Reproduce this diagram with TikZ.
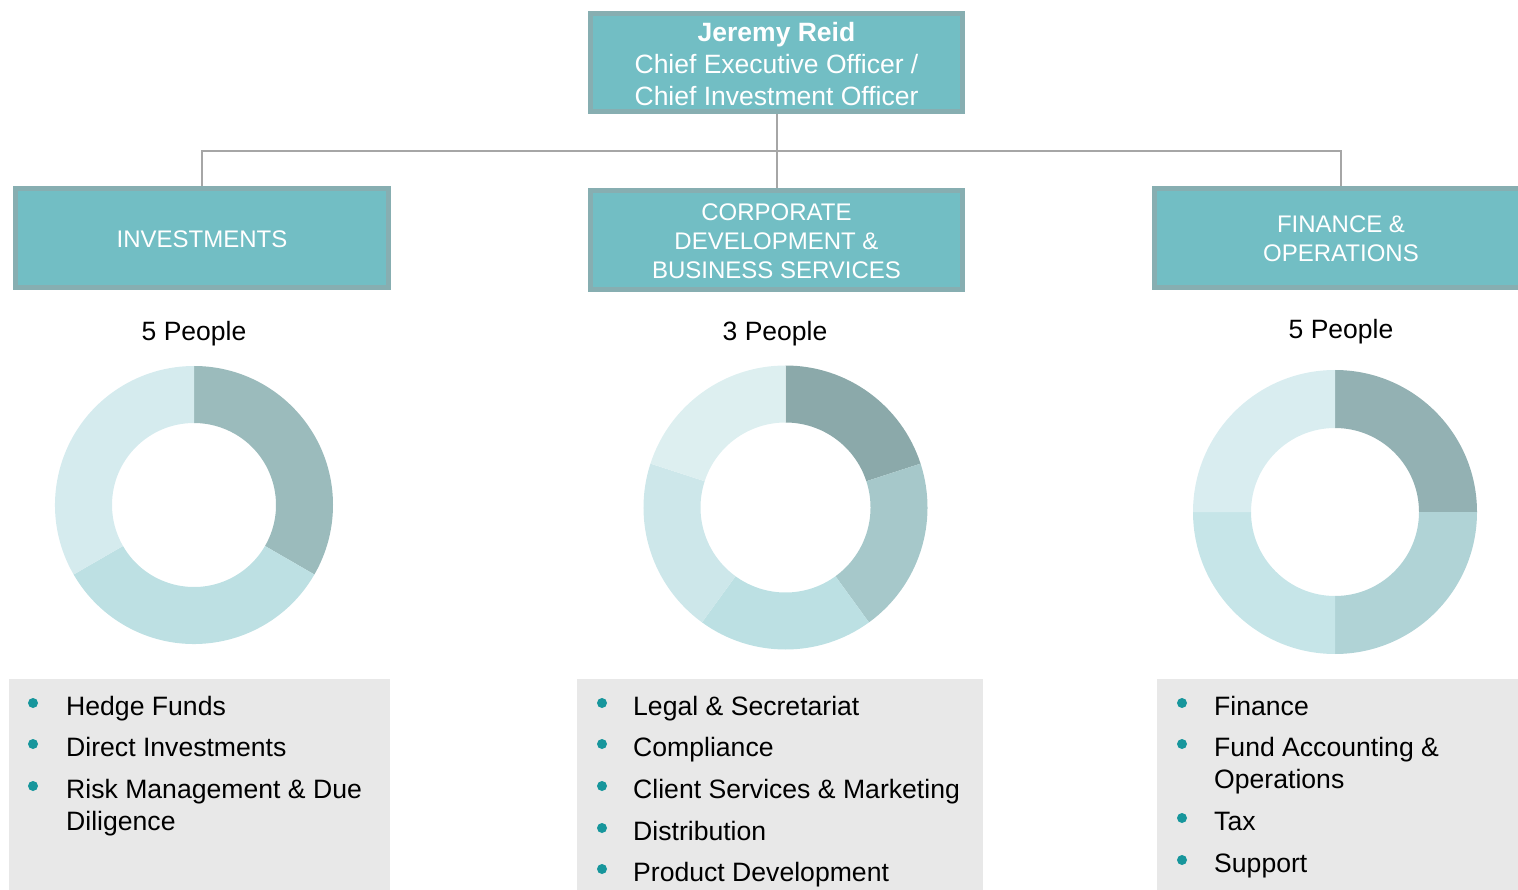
\documentclass[tikz,border=0pt]{standalone}
\usepackage{fontspec}
\setmainfont{Liberation Sans}
\definecolor{boxfill}{HTML}{72BEC4}
\definecolor{boxline}{HTML}{87AEB1}
\definecolor{wire}{HTML}{A6A6A6}
\definecolor{panel}{HTML}{E8E8E8}
\definecolor{dot}{HTML}{17969C}
\definecolor{ia}{HTML}{9BBBBC}
\definecolor{ib}{HTML}{BDE0E3}
\definecolor{ic}{HTML}{D5EBEE}
\definecolor{ca}{HTML}{8BA9AA}
\definecolor{cb}{HTML}{A6C8CA}
\definecolor{cc}{HTML}{BCE0E3}
\definecolor{cd}{HTML}{CDE7EA}
\definecolor{ce}{HTML}{DDEFF0}
\definecolor{fa}{HTML}{93B1B3}
\definecolor{fb}{HTML}{B0D3D6}
\definecolor{fc}{HTML}{C6E5E8}
\definecolor{fd}{HTML}{D9EDF0}
% ring segment: centre name, start angle, end angle, outer r, inner r, colour
\newcommand\ringseg[6]{%
  \fill[#6] ([shift={(#2:#4)}]#1) arc[start angle=#2,end angle=#3,radius=#4]
    -- ([shift={(#3:#5)}]#1) arc[start angle=#3,end angle=#2,radius=#5] -- cycle;}
\tikzset{
  headbox/.style={draw=boxline, fill=boxfill, line width=5pt, text=white,
    inner sep=0pt, align=center, minimum width=372pt},
  toptext/.style={font=\fontsize{26.5}{32}\selectfont},
  depttext/.style={font=\fontsize{24}{29}\selectfont},
  label/.style={white, inner sep=0pt, align=center},
  wire/.style={draw=wire, line width=2pt},
  count/.style={font=\fontsize{26.5}{31}\selectfont, inner sep=0pt},
  item/.style={anchor=base west, align=left, inner sep=0pt,
    font=\fontsize{26.6}{32}\selectfont},
  bullet/.style={fill=dot, circle, inner sep=0pt, minimum size=10pt},
}
\begin{document}
\begin{tikzpicture}[x=1pt,y=1pt]
\useasboundingbox (0,0) rectangle (1518,-890);

% heads (boxes, then their captions)
\node[headbox, minimum height=98pt] (ceo) at (776.5,-62.5) {};
\node[headbox, minimum width=373pt, minimum height=99pt] (inv) at (202,-238) {};
\node[headbox, minimum height=99pt] (corp) at (776.5,-240) {};
\node[headbox, minimum width=373pt, minimum height=99pt] (fin) at (1341,-238) {};

\node[label, toptext] (ceot) at ([yshift=-2pt]ceo.center)
  {\bfseries Jeremy Reid\\Chief Executive Officer /\\Chief Investment Officer};
\node[label, depttext] (invt) at ([yshift=-1pt]inv.center) {INVESTMENTS};
\node[label, depttext] (corpt) at ([yshift=-1pt]corp.center)
  {CORPORATE\\DEVELOPMENT \&\\BUSINESS SERVICES};
\node[label, depttext] (fint) at ([yshift=-1pt]fin.center) {FINANCE \&\\OPERATIONS};

% reporting lines
\coordinate (bus) at (776.5,-151);
\draw[wire] (ceo.south) -- (bus);
\draw[wire] (inv.north) |- (bus) -| (fin.north);
\draw[wire] (bus) -- (corp.north);

% head counts
\node[count] (c1) at (194,-334) {5 People};
\node[count] (c2) at (775,-334) {3 People};
\node[count] (c3) at (1341,-332) {5 People};

% rings
\coordinate (r1) at (194,-505);
\ringseg{r1}{90}{-30}{139}{82}{ia}
\ringseg{r1}{-30}{-150}{139}{82}{ib}
\ringseg{r1}{-150}{-270}{139}{82}{ic}

\coordinate (r2) at (785.5,-507.5);
\ringseg{r2}{90}{18}{142}{85}{ca}
\ringseg{r2}{18}{-54}{142}{85}{cb}
\ringseg{r2}{-54}{-126}{142}{85}{cc}
\ringseg{r2}{-126}{-198}{142}{85}{cd}
\ringseg{r2}{-198}{-270}{142}{85}{ce}

\coordinate (r3) at (1335,-512);
\ringseg{r3}{90}{0}{142}{84}{fa}
\ringseg{r3}{0}{-90}{142}{84}{fb}
\ringseg{r3}{-90}{-180}{142}{84}{fc}
\ringseg{r3}{-180}{-270}{142}{84}{fd}

% panels
\fill[panel] (9,-679) rectangle (390,-890);
\fill[panel] (577,-679) rectangle (983,-890);
\fill[panel] (1157,-679) rectangle (1518,-890);

% investments list (multi-line items sit on their last baseline)
\node[bullet] (b11) at (33,-703) {};
\node[item] (t11) at (66,-715) {Hedge Funds};
\node[bullet] (b12) at (33,-744) {};
\node[item] (t12) at (66,-756) {Direct Investments};
\node[bullet] (b13) at (33,-786) {};
\node[item] (t13) at (66,-830) {Risk Management \& Due\\Diligence};

% corporate list
\node[bullet] (b21) at (602,-703) {};
\node[item] (t21) at (633,-715) {Legal \& Secretariat};
\node[bullet] (b22) at (602,-744) {};
\node[item] (t22) at (633,-756) {Compliance};
\node[bullet] (b23) at (602,-786) {};
\node[item] (t23) at (633,-798) {Client Services \& Marketing};
\node[bullet] (b24) at (602,-828) {};
\node[item] (t24) at (633,-840) {Distribution};
\node[bullet] (b25) at (602,-869) {};
\node[item] (t25) at (633,-881) {Product Development};

% finance list
\node[bullet] (b31) at (1182,-703) {};
\node[item] (t31) at (1214,-715) {Finance};
\node[bullet] (b32) at (1182,-744) {};
\node[item] (t32) at (1214,-788) {Fund Accounting \&\\Operations};
\node[bullet] (b33) at (1182,-818) {};
\node[item] (t33) at (1214,-830) {Tax};
\node[bullet] (b34) at (1182,-860) {};
\node[item] (t34) at (1214,-872) {Support};
\end{tikzpicture}
\end{document}
